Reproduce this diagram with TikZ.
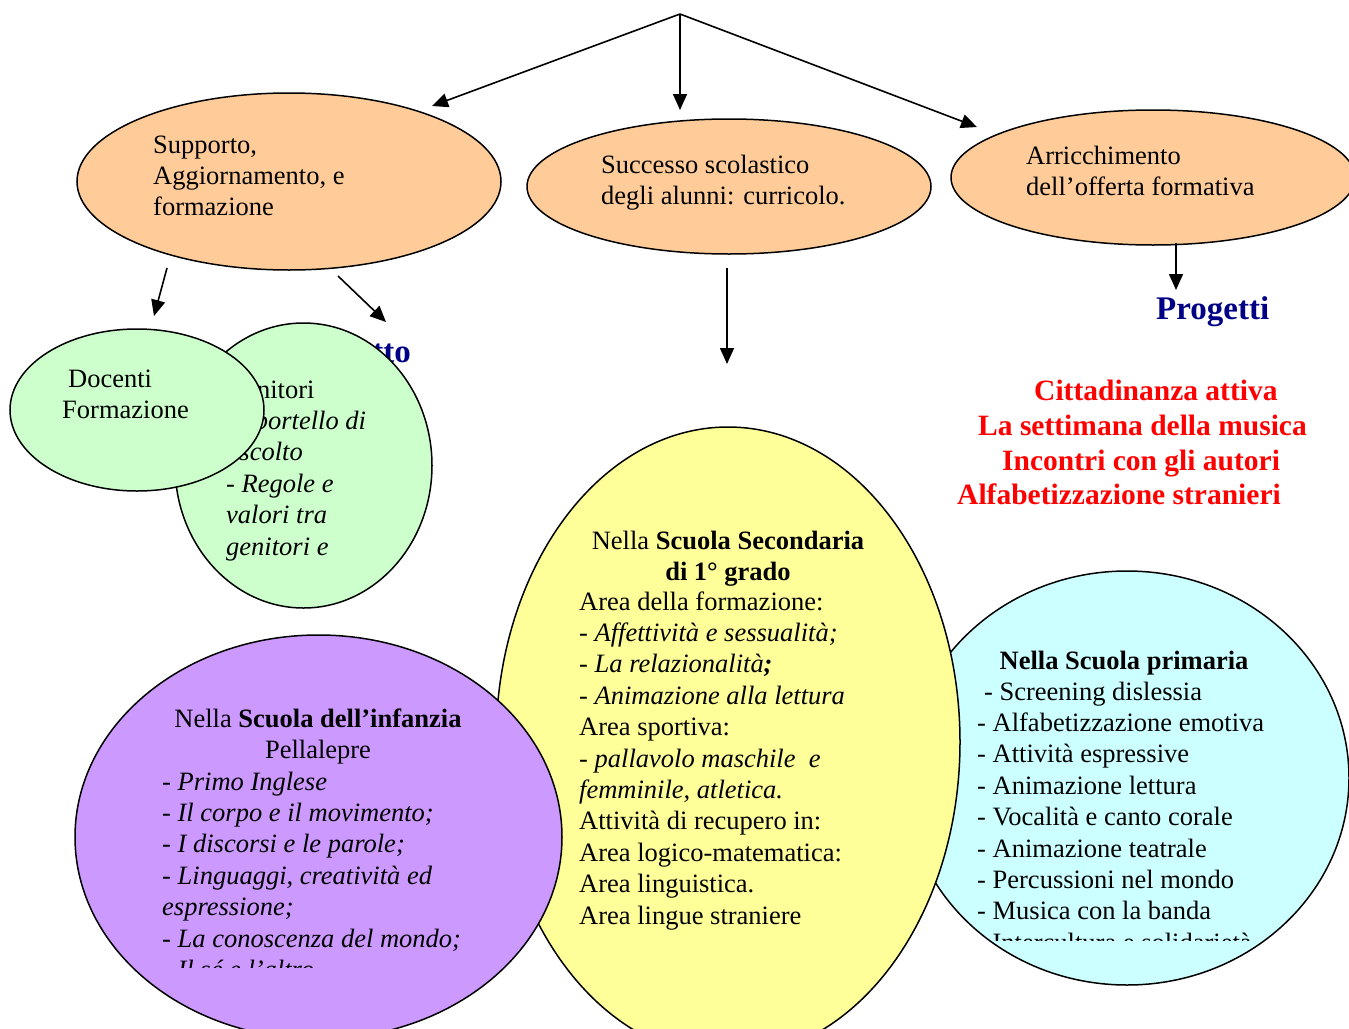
\documentclass[tikz,border=0pt]{standalone}
\usepackage{fontspec}
\setmainfont{Liberation Serif}
\usetikzlibrary{shapes.geometric,arrows.meta}

\definecolor{peach}{HTML}{FFCC99}
\definecolor{mint}{HTML}{CCFFCC}
\definecolor{lemon}{HTML}{FFFF99}
\definecolor{sky}{HTML}{CCFFFF}
\definecolor{lilac}{HTML}{CC99FF}
\definecolor{navy}{RGB}{0,0,135}

\newcommand{\lns}[1]{\begin{tabular}[t]{@{}l@{}}#1\end{tabular}}

\begin{document}
\begin{tikzpicture}[x=1pt,y=-1pt]

\tikzstyle{ell}=[ellipse,draw,line width=1.5pt,inner sep=0]
\tikzstyle{txt}=[inner sep=0,font=\fontsize{26.5}{31.4}\selectfont]
\tikzstyle{rtxt}=[inner sep=0,anchor=base west,text=red,font=\bfseries\fontsize{29.5}{34.7}\selectfont]
\tikzstyle{btxt}=[inner sep=0,text=navy,font=\bfseries\fontsize{33}{38}\selectfont]
\tikzstyle{arr}=[line width=1.6pt,-{Triangle[length=16pt,width=14pt]}]

\useasboundingbox (0,0) rectangle (1349,1028);

% top level
\coordinate (top) at (680,14);
\coordinate (tl) at (432,106);
\coordinate (tm) at (680,110);
\coordinate (tr) at (977,127);

\node[ell,fill=peach,minimum width=424pt,minimum height=177pt] (sup) at (289,181.5) {};
\node[txt,anchor=base west] (suptx) at (153,153) {\lns{Supporto,\\Aggiornamento, e\\formazione}};

\node[ell,fill=peach,minimum width=404pt,minimum height=135pt] (suc) at (729,186.5) {};
\node[txt,anchor=base west] (suctx) at (601,173) {\lns{Successo scolastico\\degli alunni: curricolo.}};

\node[ell,fill=peach,minimum width=404pt,minimum height=135pt] (arr) at (1153,177.5) {};
\node[txt,anchor=base west] (arrtx) at (1026,164) {\lns{Arricchimento\\dell’offerta formativa}};

\draw[arr] (top) -- (tl);
\draw[arr] (top) -- (tm);
\draw[arr] (top) -- (tr);

% second level
\coordinate (s1) at (167,268);
\coordinate (e1) at (154,316);
\coordinate (s2) at (338,276);
\coordinate (e2) at (386,322);
\coordinate (s3) at (727,268);
\coordinate (e3) at (727,364);
\coordinate (s4) at (1176,243);
\coordinate (e4) at (1176,290);

\draw[arr] (s1) -- (e1);
\draw[arr] (s2) -- (e2);
\draw[arr] (s3) -- (e3);
\draw[arr] (s4) -- (e4);

\node[btxt,anchor=base west] (prog) at (1156,319) {Progetti};

\node[rtxt] (r1) at (1034,400) {Cittadinanza attiva};
\node[rtxt] (r2) at (978,435) {La settimana della musica};
\node[rtxt] (r3) at (1002,470) {Incontri con gli autori};
\node[rtxt] (r4) at (957,504) {Alfabetizzazione stranieri};

% genitori / docenti
\node[btxt,anchor=base east] (prg) at (411,362) {Progetto};
\node[ell,fill=mint,minimum width=257pt,minimum height=285pt] (gen) at (303.5,465.5) {};
\node[txt,anchor=base west] (gentx) at (226,398) {\lns{Genitori\\- \textit{Sportello di}\\\textit{ascolto}\\\textit{- Regole e}\\\textit{valori tra}\\\textit{genitori e}}};

\node[ell,fill=mint,minimum width=254pt,minimum height=162pt] (doc) at (137,410) {};
\node[txt,anchor=base west] (doctx) at (62,387) {\lns{\hspace*{6pt}Docenti\\Formazione}};

% schools
\node[ell,fill=sky,minimum width=444pt,minimum height=414pt] (pri) at (1127,778) {};
\node[txt,anchor=base] (prih) at (1124,669) {\textbf{Nella Scuola primaria}};
\node[txt,anchor=base west] (pritx) at (977,700) {\lns{\hspace*{7pt}- Screening dislessia\\- Alfabetizzazione emotiva\\- Attività espressive\\- Animazione lettura\\- Vocalità e canto corale\\- Animazione teatrale\\- Percussioni nel mondo\\- Musica con la banda}};
\begin{scope}
\clip (900,920) rectangle (1349,940);
\node[txt,anchor=base west] (prilast) at (977,951) {- Intercultura e solidarietà};
\end{scope}

\node[ell,fill=lemon,minimum width=464pt,minimum height=630pt] (sec) at (728,742) {};
\node[txt,anchor=base] (sech) at (728,549) {\lns{\multicolumn{1}{c}{Nella \textbf{Scuola Secondaria}}\\\multicolumn{1}{c}{\textbf{di 1° grado}}}};
\node[txt,anchor=base west] (sectx) at (579,610) {\lns{Area della formazione:\\- \textit{Affettività e sessualità;}\\- \textit{La relazionalità}\textbf{\textit{;}}\\- \textit{Animazione alla lettura}\\Area sportiva:\\- \textit{pallavolo maschile~ e}\\\textit{femminile, atletica.}\\Attività di recupero in:\\Area logico-matematica:\\Area linguistica.\\Area lingue straniere}};

\node[ell,fill=lilac,minimum width=487pt,minimum height=404pt] (inf) at (318.5,837) {};
\node[txt,anchor=base] (infh) at (318,727) {\lns{\multicolumn{1}{c}{Nella \textbf{Scuola dell’infanzia}}\\\multicolumn{1}{c}{Pellalepre}}};
\node[txt,anchor=base west] (inftx) at (162,790) {\lns{- \textit{Primo Inglese}\\- \textit{Il corpo e il movimento;}\\- \textit{I discorsi e le parole;}\\- \textit{Linguaggi, creatività ed}\\\textit{espressione;}\\- \textit{La conoscenza del mondo;}}};
\begin{scope}
\clip (100,940) rectangle (500,967);
\node[txt,anchor=base west] (inflast) at (162,978) {- \textit{Il sé e l’altro}};
\end{scope}

\end{tikzpicture}
\end{document}
